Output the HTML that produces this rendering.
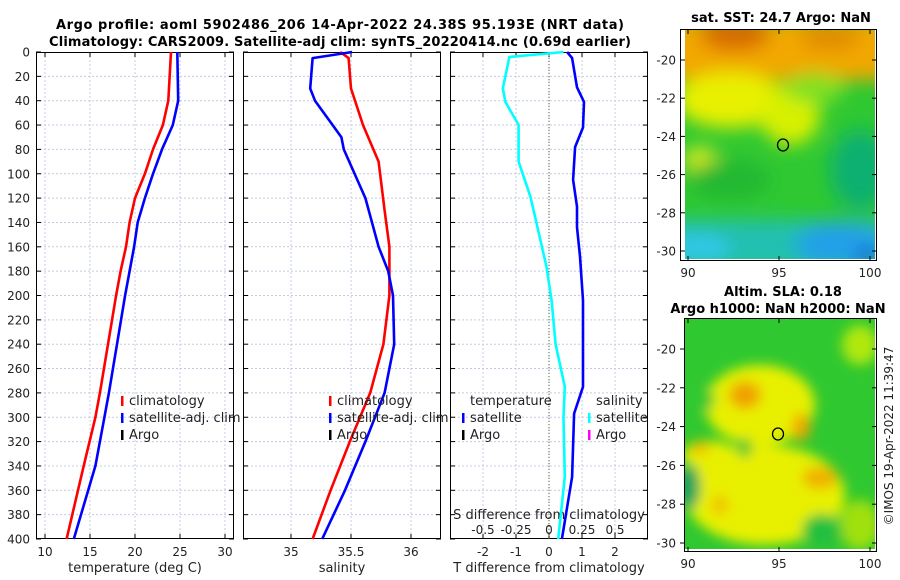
<!DOCTYPE html>
<html><head><meta charset="utf-8"><style>
body{margin:0;background:#fff}
svg{display:block;font-family:"DejaVu Sans","Liberation Sans",sans-serif}
</style></head><body>
<svg id="c" width="900" height="580" viewBox="0 0 900 580">
<defs>
<filter id="bl" x="-20%" y="-20%" width="140%" height="140%"><feGaussianBlur stdDeviation="9"/></filter>
<filter id="bl2" x="-20%" y="-20%" width="140%" height="140%"><feGaussianBlur stdDeviation="6"/></filter>
<clipPath id="m1c"><rect x="685" y="30" width="190" height="229"/></clipPath>
<clipPath id="m2c"><rect x="685" y="318" width="190" height="231"/></clipPath>
</defs>
<text x="340" y="29" text-anchor="middle" font-size="13" font-weight="bold" textLength="568">Argo profile: aoml 5902486_206 14-Apr-2022 24.38S 95.193E (NRT data)</text>
<text x="340" y="46" text-anchor="middle" font-size="13" font-weight="bold" textLength="582">Climatology: CARS2009. Satellite-adj clim: synTS_20220414.nc (0.69d earlier)</text>
<g id="plots"></g>
<!-- map 1 -->
<g>
<text x="781" y="22" text-anchor="middle" font-size="13" font-weight="bold">sat. SST: 24.7 Argo: NaN</text>
<g clip-path="url(#m1c)">
<rect x="685" y="30" width="190" height="229" fill="#2fc832"/>
<g filter="url(#bl)">
<rect x="670" y="20" width="220" height="60" fill="#f2a800"/>
<ellipse cx="735" cy="35" rx="35" ry="16" fill="#d86a00"/>
<ellipse cx="830" cy="38" rx="30" ry="12" fill="#e08a00"/>
<ellipse cx="730" cy="100" rx="55" ry="28" fill="#e8f000"/>
<ellipse cx="790" cy="115" rx="30" ry="30" fill="#d8f000"/>
<ellipse cx="815" cy="88" rx="30" ry="15" fill="#7ee020"/>
<ellipse cx="700" cy="160" rx="18" ry="14" fill="#d0e820"/>
<ellipse cx="730" cy="180" rx="40" ry="20" fill="#20b830"/>
<ellipse cx="860" cy="170" rx="30" ry="40" fill="#10b070"/>
<rect x="670" y="220" width="220" height="50" fill="#20c0b0"/>
<ellipse cx="840" cy="245" rx="45" ry="22" fill="#20a0e8"/>
<ellipse cx="700" cy="248" rx="30" ry="14" fill="#30c8e8"/>
<ellipse cx="868" cy="256" rx="12" ry="8" fill="#1050d0"/>
</g>
</g>
<rect x="680.5" y="29.5" width="196" height="231" fill="none" stroke="#000"/>
<ellipse cx="783" cy="145" rx="5.5" ry="6" fill="none" stroke="#000" stroke-width="1.3"/>
<g id="m1t" font-size="12" fill="#222"></g>
</g>
<!-- map 2 -->
<g>
<text x="783" y="296" text-anchor="middle" font-size="13" font-weight="bold">Altim. SLA: 0.18</text>
<text x="778" y="313" text-anchor="middle" font-size="13" font-weight="bold">Argo h1000: NaN h2000: NaN</text>
<g clip-path="url(#m2c)">
<rect x="685" y="318" width="190" height="231" fill="#30c830"/>
<g filter="url(#bl2)">
<ellipse cx="760" cy="405" rx="55" ry="40" fill="#e8f000"/>
<ellipse cx="765" cy="495" rx="80" ry="50" fill="#e8f000"/>
<ellipse cx="710" cy="455" rx="28" ry="14" fill="#e8f000"/>
<ellipse cx="860" cy="525" rx="20" ry="25" fill="#a0e010"/>
<ellipse cx="860" cy="345" rx="18" ry="20" fill="#b0e810"/>
<ellipse cx="745" cy="395" rx="16" ry="14" fill="#f0a000"/>
<ellipse cx="801" cy="427" rx="9" ry="14" fill="#f0a800"/>
<ellipse cx="820" cy="478" rx="18" ry="11" fill="#f0b000"/>
<ellipse cx="700" cy="448" rx="10" ry="7" fill="#f2c000"/>
<ellipse cx="720" cy="505" rx="8" ry="10" fill="#f0c000"/>
<ellipse cx="745" cy="448" rx="6" ry="10" fill="#30c030"/>
<ellipse cx="690" cy="487" rx="10" ry="22" fill="#10a060"/>
<ellipse cx="822" cy="530" rx="20" ry="16" fill="#20c040"/>
<ellipse cx="700" cy="400" rx="15" ry="12" fill="#30c830"/>
</g>
</g>
<rect x="684.5" y="318.5" width="192" height="233" fill="none" stroke="#000"/>
<ellipse cx="778" cy="434" rx="5.5" ry="6" fill="none" stroke="#000" stroke-width="1.3"/>
<g id="m2t" font-size="12" fill="#222"></g>
<text transform="translate(893,436) rotate(-90)" text-anchor="middle" font-size="12" fill="#222">©IMOS 19-Apr-2022 11:39:47</text>
</g>
</svg>
<script>
// ---- data ----
const depthTicks=[0,20,40,60,80,100,120,140,160,180,200,220,240,260,280,300,320,340,360,380,400];
const tTicks=[10,15,20,25,30];
const sTicks=[35,35.5,36];
const dTTicks=[-2,-1,0,1,2];
const dSTicks=[-0.5,-0.25,0,0.25,0.5];
const dSTickLabels=["-0.5","-0.25","0","0.25","0.5"];
const tClimDepth=[0,40,60,80,100,120,140,160,180,200,280,300,340,400];
const tClim=[24.0,23.7,23.1,22.0,21.1,20.0,19.4,19.0,18.4,17.9,16.1,15.6,14.3,12.4];
const tSatDepth=[0,40,60,80,100,120,140,160,180,200,280,300,340,400];
const tSat=[24.7,24.8,24.2,23.0,22.0,21.1,20.3,19.9,19.4,18.9,17.1,16.6,15.6,13.2];
const sClimDepth=[0,5,30,60,90,130,160,200,240,280,320,360,400];
const sClim=[35.41,35.48,35.5,35.6,35.73,35.78,35.82,35.82,35.77,35.66,35.49,35.33,35.18];
const sSatDepth=[0,5,30,40,70,80,120,160,180,200,240,280,320,360,400];
const sSat=[35.51,35.18,35.16,35.2,35.42,35.44,35.62,35.73,35.81,35.85,35.86,35.78,35.62,35.45,35.26];
const dTDepth=[0,5,29,41,62,78,105,127,144,168,204,240,275,297,349,400];
const dTSat=[0.55,0.70,0.85,1.06,1.03,0.79,0.73,0.85,0.85,0.94,1.03,1.03,1.03,0.76,0.70,0.39];
const dSDepth=[0,4,30,41,60,72,90,119,176,204,240,275,300,349,400];
const dSSat=[0.11,-0.30,-0.35,-0.33,-0.23,-0.23,-0.23,-0.14,-0.02,0.02,0.05,0.12,0.11,0.12,0.07];
const lonTicks=[90,95,100];
const latTicks=[-20,-22,-24,-26,-28,-30];

const NS="http://www.w3.org/2000/svg";
const G=document.getElementById('plots');
function el(t,a,p){const e=document.createElementNS(NS,t);for(const k in a)e.setAttribute(k,a[k]);(p||G).appendChild(e);return e;}
const top0=52,bot=539;
const yD=d=>top0+d*(bot-top0)/400;
const panels=[
 {x0:36,x1:234,xs:v=>36+(v-9)*9,ticks:tTicks,labels:tTicks.map(String),xl:"temperature (deg C)",name:"temperature"},
 {x0:243,x1:441,xs:v=>243+(v-34.6)*120,ticks:sTicks,labels:sTicks.map(String),xl:"salinity",name:"salinity"},
 {x0:450,x1:648,xs:v=>549+v*33,ticks:dTTicks,labels:dTTicks.map(String),xl:"T difference from climatology",name:"difference"}
];
const sx=v=>549+v*132;
panels.forEach((p,i)=>{
 const g=el('g',{});
 
 
 depthTicks.forEach(d=>{
  if(d>0&&d<400){const l=el('line',{x1:p.x0,x2:p.x1,y1:yD(d),y2:yD(d),stroke:'#c4cce4','stroke-dasharray':'2,2','stroke-width':1},g);
  }
  el('line',{x1:p.x0,x2:p.x0+5,y1:yD(d),y2:yD(d),stroke:'#000'},g);
  el('line',{x1:p.x1-5,x2:p.x1,y1:yD(d),y2:yD(d),stroke:'#000'},g);
 });
 p.ticks.forEach((v,j)=>{
  const x=p.xs(v);
  const l=el('line',{x1:x,x2:x,y1:top0,y2:bot,stroke:'#c4cce4','stroke-dasharray':'2,2'},g);
  
  el('line',{x1:x,x2:x,y1:bot-5,y2:bot,stroke:'#000'},g);
  el('line',{x1:x,x2:x,y1:top0,y2:top0+5,stroke:'#000'},g);
  const t=el('text',{x:x,y:556,'text-anchor':'middle','font-size':12,fill:'#222'},g);
  t.textContent=p.labels[j];
  
 });
 const xt=el('text',{x:(p.x0+p.x1)/2,y:572,'text-anchor':'middle','font-size':13,fill:'#222'},g);
 xt.textContent=p.xl;
 
 const fr=el('rect',{x:p.x0+.5,y:top0+.5,width:p.x1-p.x0-1,height:bot-top0-1,fill:'none',stroke:'#000'},g);
 
});
depthTicks.forEach(d=>{
 const t=el('text',{x:30,y:yD(d)+4.5,'text-anchor':'end','font-size':12,fill:'#222'});
 t.textContent=d;
 
});
const z=el('line',{x1:549,x2:549,y1:top0,y2:bot,stroke:'#556633','stroke-dasharray':'1,2'});

dSTicks.forEach((v,j)=>{
 const t=el('text',{x:sx(v),y:534,'text-anchor':'middle','font-size':12,fill:'#222'});
 t.textContent=dSTickLabels[j];
 
});
const st=el('text',{x:549,y:519,'text-anchor':'middle','font-size':13,fill:'#222'});
st.textContent='S difference from climatology';

function line(depths,vals,fx,col,name){
 const pts=depths.map((d,i)=>fx(vals[i]).toFixed(1)+','+yD(d).toFixed(1)).join(' ');
 const l=el('polyline',{points:pts,fill:'none',stroke:col,'stroke-width':2.6,'stroke-linejoin':'round'});
 
 
}
line(tClimDepth,tClim,panels[0].xs,'#ff0000','temp-climatology-line');
line(tSatDepth,tSat,panels[0].xs,'#0000ff','temp-satellite-line');
line(sClimDepth,sClim,panels[1].xs,'#ff0000','sal-climatology-line');
line(sSatDepth,sSat,panels[1].xs,'#0000ff','sal-satellite-line');
line(dSDepth,dSSat,sx,'#00ffff','sdiff-satellite-line');
line(dTDepth,dTSat,panels[2].xs,'#0000ff','tdiff-satellite-line');
function leg(x,y,col,txt,name){
 if(col){const m=el('rect',{x:x,y:y-9,width:2.5,height:10,fill:col});
 }
 const t=el('text',{x:x+8,y:y,'font-size':13,fill:'#222'});t.textContent=txt;
 
}
leg(121,405,'#ff0000','climatology','legend-climatology');
leg(121,422,'#0000ff','satellite-adj. clim','legend-satellite-adj');
leg(121,439,'#000','Argo','legend-argo');
leg(329,405,'#ff0000','climatology','legend-climatology-s');
leg(329,422,'#0000ff','satellite-adj. clim','legend-satellite-adj-s');
leg(329,439,'#000','Argo','legend-argo-s');
leg(462,405,null,'temperature','legend-temperature-header');
leg(462,422,'#0000ff','satellite','legend-t-satellite');
leg(462,439,'#000','Argo','legend-t-argo');
leg(588,405,null,'salinity','legend-salinity-header');
leg(588,422,'#00ffff','satellite','legend-s-satellite');
leg(588,439,'#ff00ff','Argo','legend-s-argo');
function mapAxes(gid,yTop,yBot,latY){
 const g=document.getElementById(gid);
 lonTicks.forEach(v=>{const x=688+(v-90)*18.2;
  el('line',{x1:x,x2:x,y1:yBot-4,y2:yBot,stroke:'#000'},g);
  el('line',{x1:x,x2:x,y1:yTop,y2:yTop+4,stroke:'#000'},g);
  const t=el('text',{x:x,y:yBot+17,'text-anchor':'middle'},g);t.textContent=v;
  });
 latTicks.forEach(v=>{const y=latY(v);
  el('line',{x1:680,x2:685,y1:y,y2:y,stroke:'#000'},g);
  el('line',{x1:872,x2:877,y1:y,y2:y,stroke:'#000'},g);
  const t=el('text',{x:676,y:y+4.5,'text-anchor':'end'},g);t.textContent=v;
  });
}
mapAxes('m1t',30,260,v=>60+(-20-v)*19.1);
mapAxes('m2t',319,551,v=>349+(-20-v)*19.4);
</script>
</body></html>
